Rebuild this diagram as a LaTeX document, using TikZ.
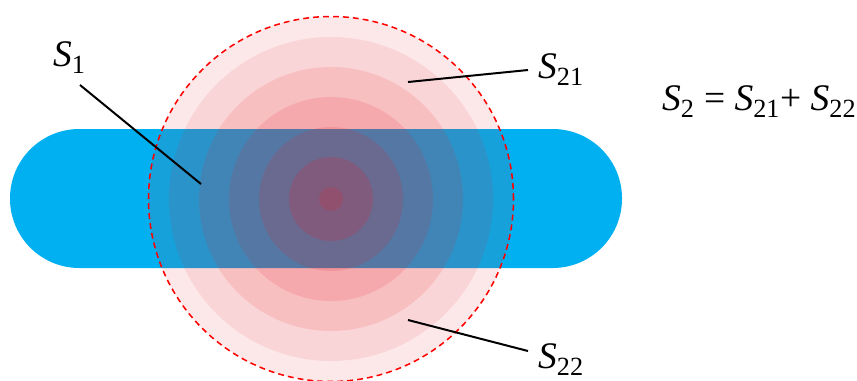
\documentclass[tikz,border=0pt]{standalone}
\usepackage{fontspec}
\setmainfont{Liberation Serif}
\newfontfamily\areafont{Liberation Serif}
\usetikzlibrary{positioning,calc}
\definecolor{flowblue}{HTML}{00B0F0}
\definecolor{spotred}{HTML}{E61E28}
\definecolor{rimred}{HTML}{FF0000}
\tikzstyle{areatext} = [inner sep=0pt, anchor=base west, font=\areafont\fontsize{32}{38}\selectfont]
\tikzstyle{leader} = [line width=1.7pt, black]
\tikzstyle{rim} = [rimred, line width=1.3pt, dash pattern=on 5pt off 3.5pt]
\newcommand{\Sarea}[1]{\textit{S}\textsubscript{#1}}

\begin{document}
\begin{tikzpicture}[x=0.03cm, y=0.03cm]
\useasboundingbox (0,0) rectangle (857,380);
% blue band
\fill[flowblue, rounded corners=2.08cm] (10,112) rectangle (622,251);
% red spot, stepped rings
\coordinate (ctr) at (331,181);
\foreach \rad/\op in {182.5/0.1, 162/0.093, 132/0.12, 102/0.13, 72/0.15, 42/0.18, 12/0.17}
  \fill[spotred, fill opacity=\op] (ctr) circle (\rad);
\draw[rim] (ctr) circle (182.5);

\node[areatext] (sone) at (53,314) {\Sarea{1}};
\node[areatext] (stwoone) at (538,302) {\Sarea{21}};
\node[areatext] (stwotwo) at (538,12) {\Sarea{22}};
\node[areatext] (ssum) at (662,270) {\Sarea{2} = \Sarea{21}+ \Sarea{22}};

\coordinate (sonefoot) at ($(sone.base west)+(27,-19)$);
\coordinate (sonetip) at (201,196);
\coordinate (stwoonefoot) at ($(stwoone.base west)+(-10,8)$);
\coordinate (stwoonetip) at (408,298);
\coordinate (stwotwofoot) at ($(stwotwo.base west)+(-10,17)$);
\coordinate (stwotwotip) at (408,60);
\draw[leader] (sonefoot) -- (sonetip);
\draw[leader] (stwoonefoot) -- (stwoonetip);
\draw[leader] (stwotwofoot) -- (stwotwotip);
\end{tikzpicture}
\end{document}
